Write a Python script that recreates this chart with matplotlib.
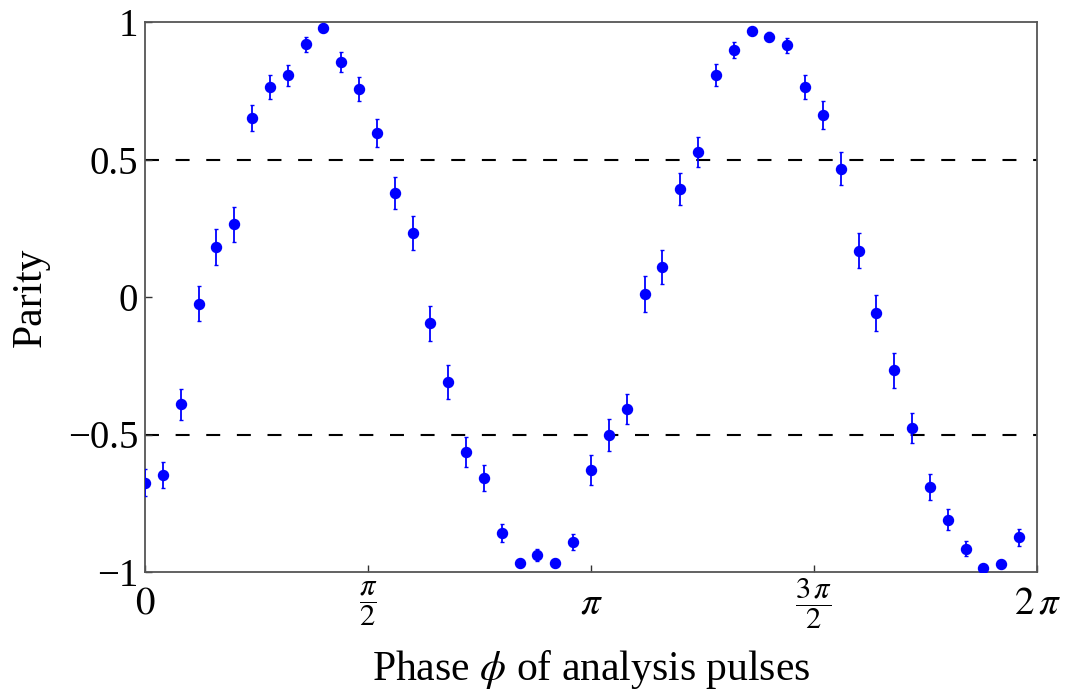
import numpy as np
import matplotlib
matplotlib.use("Agg")
import matplotlib.pyplot as plt

# ---- data ----
n_points = 50
phase = np.arange(n_points) * 2 * np.pi / n_points

parity = [-0.675, -0.648, -0.390, -0.025, 0.183, 0.264, 0.651, 0.764, 0.806, 0.919,
          0.979, 0.855, 0.757, 0.597, 0.378, 0.233, -0.096, -0.310, -0.564, -0.659,
          -0.858, -0.966, -0.939, -0.966, -0.891, -0.628, -0.503, -0.407, 0.011, 0.109,
          0.393, 0.527, 0.806, 0.898, 0.968, 0.947, 0.915, 0.765, 0.662, 0.467,
          0.168, -0.058, -0.267, -0.476, -0.691, -0.810, -0.916, -0.987, -0.971, -0.874]

parity_err = [0.048, 0.048, 0.057, 0.064, 0.065, 0.064, 0.048, 0.044, 0.039, 0.028,
              0.015, 0.035, 0.044, 0.052, 0.059, 0.063, 0.065, 0.062, 0.055, 0.048,
              0.033, 0.015, 0.022, 0.015, 0.030, 0.055, 0.058, 0.056, 0.064, 0.062,
              0.058, 0.055, 0.040, 0.028, 0.012, 0.015, 0.027, 0.044, 0.050, 0.061,
              0.063, 0.064, 0.064, 0.056, 0.046, 0.039, 0.027, 0.012, 0.015, 0.032]

x_ticks = [0, np.pi / 2, np.pi, 3 * np.pi / 2, 2 * np.pi]
x_ticklabels = [r"$0$", r"$\dfrac{\pi}{2}$", r"$\pi$", r"$\dfrac{3\,\pi}{2}$", r"$2\,\pi$"]
y_ticks = [-1, -0.5, 0, 0.5, 1]
y_ticklabels = ["\u22121", "\u22120.5", "0", "0.5", "1"]
ref_lines = [0.5, -0.5]

# ---- style ----
plt.rcParams["font.family"] = ["Liberation Serif", "DejaVu Serif"]
plt.rcParams["mathtext.fontset"] = "stix"
FS = 28
FS_LABEL = 30

fig = plt.figure(figsize=(10.65, 6.92), dpi=100)
ax = fig.add_axes([145 / 1065, 1 - 572 / 692, (1037 - 145) / 1065, (572 - 22) / 692])

for yv in ref_lines:
    ax.axhline(yv, color="black", lw=1.5, linestyle=(0, (6.7, 8.0)), zorder=1)

ax.errorbar(phase, parity, yerr=parity_err, fmt="o", color="#0000ff", ms=7.2,
            elinewidth=1.3, capsize=1.6, capthick=1.0, zorder=3)

ax.set_xlim(0, 2 * np.pi)
ax.set_ylim(-1, 1)
ax.set_xticks(x_ticks)
ax.set_xticklabels(x_ticklabels, fontsize=FS)
for lab in ax.get_xticklabels():
    lab.set_va("center")
    if "frac" in lab.get_text():
        lab.set_fontsize(22)
ax.set_yticks(y_ticks)
ax.set_yticklabels(y_ticklabels, fontsize=FS)

ax.tick_params(axis="both", direction="in", length=5, width=1.0, color="#333333",
               top=False, right=False)
ax.tick_params(axis="x", pad=23)
ax.tick_params(axis="y", pad=5)

for sp in ax.spines.values():
    sp.set_color("#555555")
    sp.set_linewidth(1.3)

ax.set_xlabel(r"Phase $\phi$ of analysis pulses", fontsize=FS_LABEL, va="baseline")
ax.xaxis.set_label_coords(0.5, -(680 - 572) / 550)
ax.set_ylabel("Parity", fontsize=FS_LABEL)
ax.yaxis.set_label_coords(-(145 - 50) / 892, 0.5)

fig.savefig("out.png", dpi=100)
